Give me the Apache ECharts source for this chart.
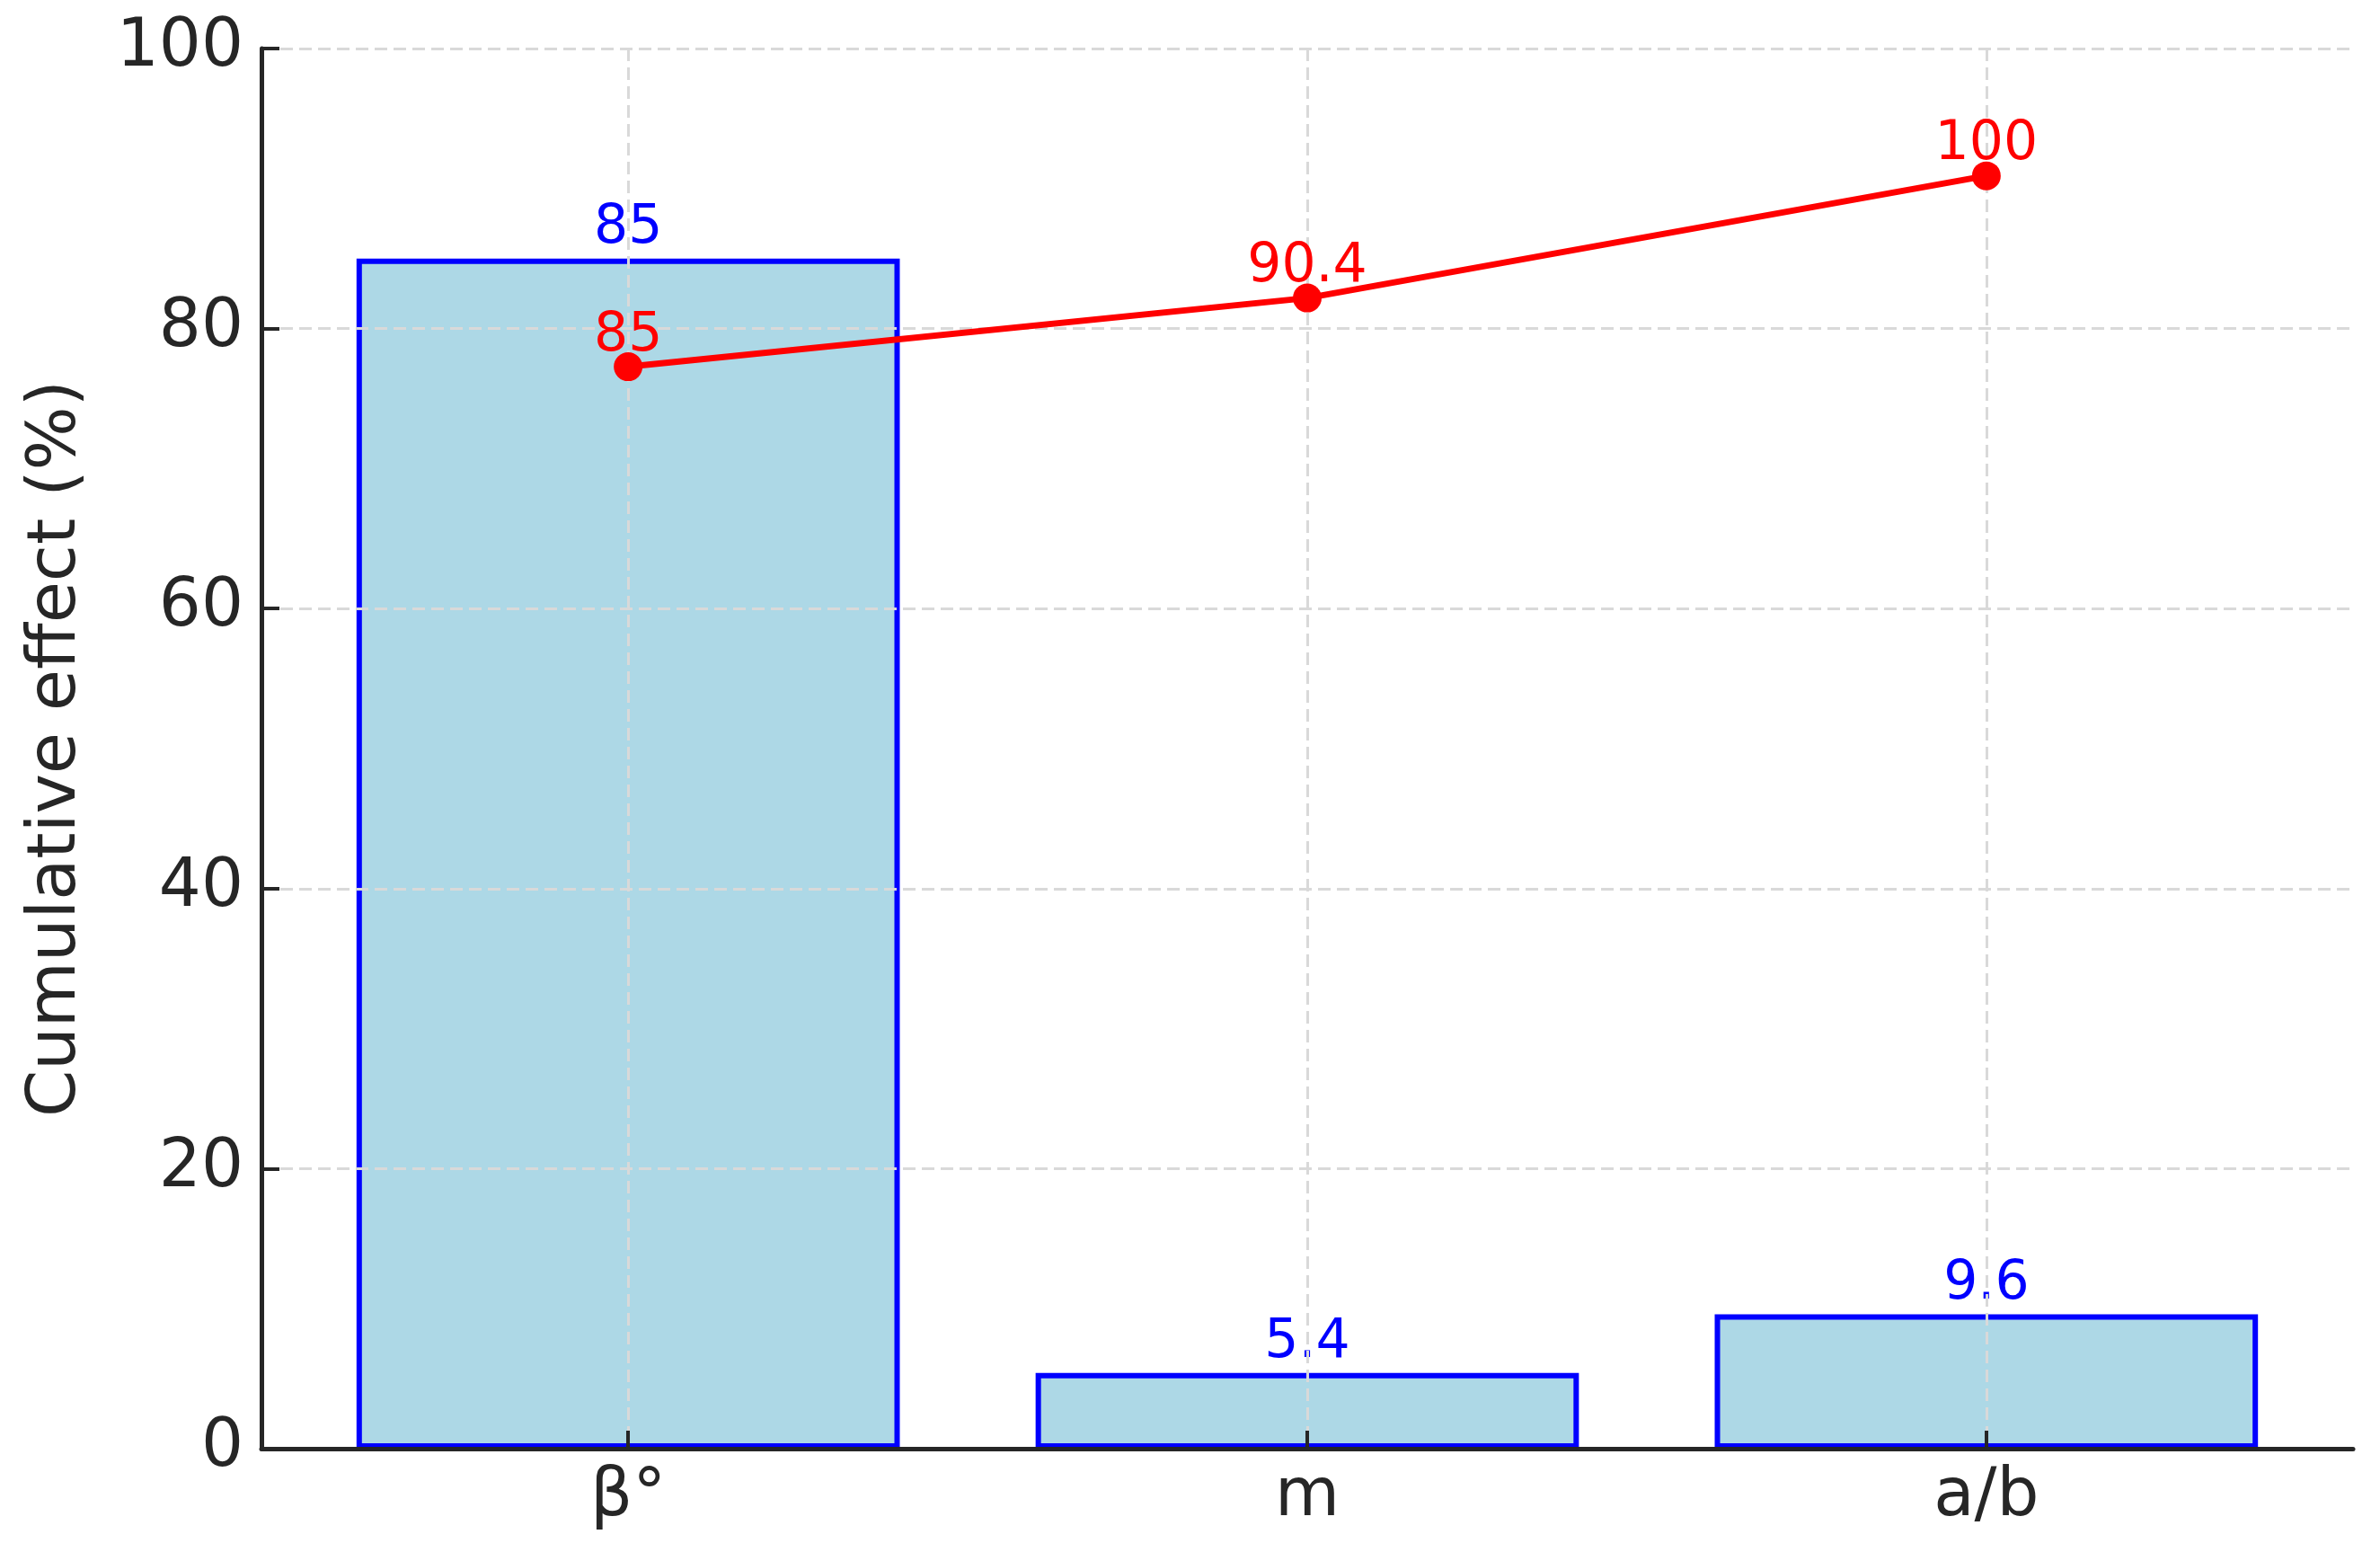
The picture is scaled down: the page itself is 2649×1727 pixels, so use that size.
<!DOCTYPE html>
<html>
<head>
<meta charset="utf-8">
<script src="https://cdn.jsdelivr.net/npm/echarts@6/dist/echarts.min.js"></script>
<style>
  html, body { margin: 0; padding: 0; background: #fff; }
  #chart { width: 2649px; height: 1727px; }
</style>
</head>
<body>
<div id="chart"></div>
<script>
// chart data
const categories = ['β°', 'm', 'a/b']
const barValues = [85, 5.4, 9.6]
const cumulativeValues = [85, 90.4, 100]
const categoryPositions = [0, 1, 2]

const gridLeft = 291
const gridRight = 30
const plotWidth = 2649 - gridLeft - gridRight
const xMin = -0.54
const xMax = 2.54
const barWidth = plotWidth / (xMax - xMin) * 0.8

const font = 'DejaVu Sans'
const dark = '#262626'
const gridLine = { show: true, lineStyle: { color: '#d9d9d9', width: 3, type: [14, 7] } }

var myChart = echarts.init(document.getElementById('chart'))
var option = {
  animation: false,
  grid: {
    left: gridLeft,
    right: gridRight,
    top: 54,
    bottom: 115
  },
  xAxis: {
    type: 'value',
    min: xMin,
    max: xMax,
    z: 3,
    axisLine: { show: true, onZero: false, lineStyle: { color: dark, width: 5 } },
    axisTick: {
      show: true,
      inside: true,
      length: 20,
      customValues: categoryPositions,
      lineStyle: { color: dark, width: 4 }
    },
    axisLabel: {
      customValues: categoryPositions,
      formatter: (v) => categories[Math.round(v)],
      fontFamily: font,
      fontSize: 74,
      color: dark,
      margin: 18
    },
    splitLine: gridLine
  },
  yAxis: [
    {
      type: 'value',
      min: 0,
      max: 100,
      interval: 20,
      z: 3,
      name: 'Cumulative effect (%)',
      nameLocation: 'middle',
      nameRotate: 90,
      nameGap: 190,
      nameTextStyle: { fontFamily: font, fontSize: 75, color: dark },
      axisLine: { show: true, onZero: false, lineStyle: { color: dark, width: 5 } },
      axisTick: { show: true, inside: true, length: 20, lineStyle: { color: dark, width: 4 } },
      axisLabel: { fontFamily: font, fontSize: 74, color: dark, margin: 20 },
      splitLine: gridLine
    },
    {
      type: 'value',
      min: 0,
      max: 110,
      show: false,
      splitLine: { show: false }
    }
  ],
  series: [
    {
      name: 'effect',
      type: 'bar',
      barWidth: barWidth,
      z: 2,
      itemStyle: { color: '#add8e6', borderColor: '#0000ff', borderWidth: 6 },
      label: {
        show: true,
        position: 'top',
        distance: 3,
        fontFamily: font,
        fontSize: 60,
        color: '#0000ff',
        formatter: (p) => p.value[1]
      },
      data: categoryPositions.map((x, i) => [x, barValues[i]])
    },
    {
      name: 'cumulative',
      type: 'line',
      yAxisIndex: 1,
      z: 5,
      symbol: 'circle',
      symbolSize: 32,
      lineStyle: { color: '#ff0000', width: 7 },
      itemStyle: { color: '#ff0000' },
      label: {
        show: true,
        position: 'top',
        distance: 0,
        offset: [0, 12],
        fontFamily: font,
        fontSize: 60,
        color: '#ff0000',
        formatter: (p) => p.value[1]
      },
      data: categoryPositions.map((x, i) => [x, cumulativeValues[i]])
    }
  ]
}
myChart.setOption(option)
</script>
</body>
</html>
